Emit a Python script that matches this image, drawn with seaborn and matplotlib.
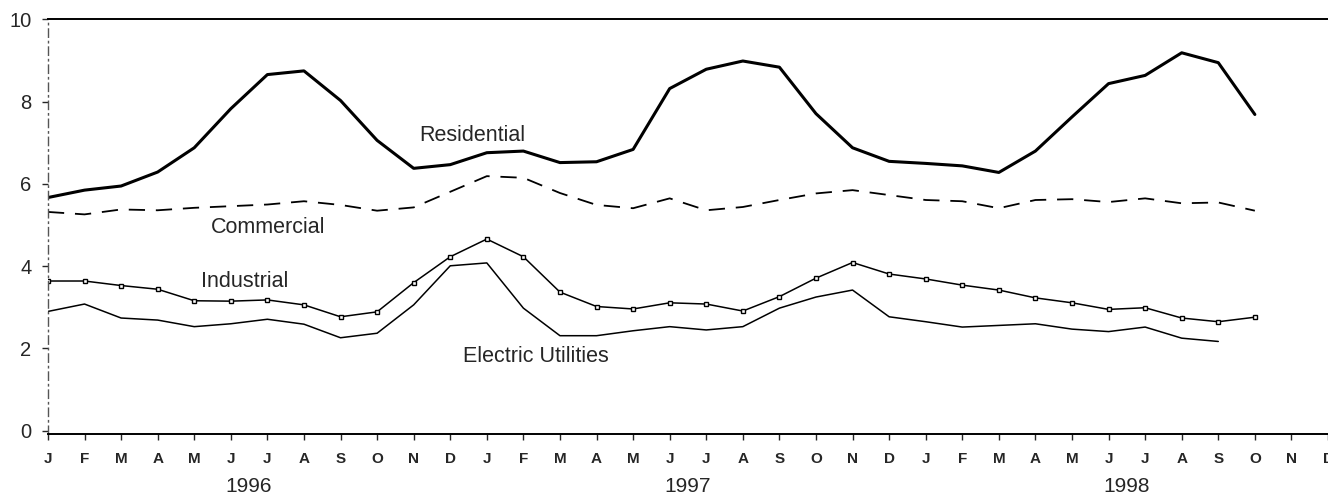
import matplotlib
matplotlib.use("Agg")
import matplotlib.pyplot as plt
import seaborn as sns
import pandas as pd

sns.set_style("white")
plt.rcParams['font.family'] = ['Liberation Sans', 'DejaVu Sans']

month_letters = ["J", "F", "M", "A", "M", "J", "J", "A", "S", "O", "N", "D"]
years = ["1996", "1997", "1998"]

residential = [5.67, 5.85, 5.95, 6.29, 6.88, 7.83, 8.66, 8.75, 8.03, 7.06, 6.38, 6.47,
               6.76, 6.80, 6.52, 6.54, 6.84, 8.32, 8.79, 8.99, 8.84, 7.71, 6.88, 6.55,
               6.50, 6.44, 6.28, 6.80, 7.63, 8.44, 8.64, 9.19, 8.95, 7.69]
commercial = [5.32, 5.26, 5.38, 5.36, 5.42, 5.46, 5.50, 5.58, 5.49, 5.35, 5.43, 5.81,
              6.19, 6.15, 5.78, 5.49, 5.41, 5.65, 5.36, 5.44, 5.61, 5.77, 5.85, 5.73,
              5.61, 5.58, 5.41, 5.61, 5.63, 5.56, 5.65, 5.53, 5.55, 5.35]
industrial = [3.64, 3.64, 3.53, 3.44, 3.16, 3.15, 3.18, 3.06, 2.77, 2.89, 3.60, 4.23,
              4.66, 4.23, 3.37, 3.02, 2.96, 3.11, 3.08, 2.91, 3.26, 3.71, 4.09, 3.81,
              3.69, 3.54, 3.42, 3.23, 3.11, 2.95, 2.99, 2.74, 2.65, 2.76]
electric = [2.90, 3.08, 2.74, 2.69, 2.53, 2.60, 2.71, 2.59, 2.26, 2.37, 3.06, 4.01,
            4.08, 2.98, 2.31, 2.31, 2.43, 2.53, 2.45, 2.53, 2.98, 3.25, 3.42, 2.77,
            2.65, 2.52, 2.56, 2.60, 2.47, 2.41, 2.52, 2.25, 2.17]

df = pd.DataFrame({'month': range(len(residential)), 'Residential': residential,
                   'Commercial': commercial, 'Industrial': industrial})
df_el = pd.DataFrame({'month': range(len(electric)), 'Electric Utilities': electric})

fig = plt.figure(figsize=(13.28, 4.97), dpi=100)
ax = fig.add_axes([0.0361, 0.1268, 0.9639, 0.834])

sns.lineplot(data=df, x='month', y='Residential', color='black', linewidth=2.2, ax=ax)
sns.lineplot(data=df, x='month', y='Commercial', color='black', linewidth=1.3,
             dashes=False, ax=ax).lines[-1].set_dashes([9, 6])
sns.lineplot(data=df, x='month', y='Industrial', color='black', linewidth=1.1,
             marker='s', markersize=3.5, markerfacecolor='white', markeredgecolor='black',
             markeredgewidth=1.0, ax=ax)
sns.lineplot(data=df_el, x='month', y='Electric Utilities', color='black', linewidth=1.1, ax=ax)

ax.text(10.14, 7.18, "Residential", fontsize=15.5, va='center', ha='left')
ax.text(4.45, 4.93, "Commercial", fontsize=15.5, va='center', ha='left')
ax.text(4.18, 3.62, "Industrial", fontsize=15.5, va='center', ha='left')
ax.text(11.34, 1.80, "Electric Utilities", fontsize=15.5, va='center', ha='left')

ax.set_xlim(0, 35)
ax.set_ylim(-0.08, 10)
ax.set_xlabel("")
ax.set_ylabel("")

ax.set_yticks([0, 2, 4, 6, 8, 10])
ax.set_yticklabels(["0", "2", "4", "6", "8", "10"])
ax.set_xticks(range(36))
ax.set_xticklabels(month_letters * 3, fontweight='bold')
ax.set_xticks([5.5, 17.5, 29.5], minor=True)
ax.set_xticklabels(years, minor=True)

ax.tick_params(axis='y', which='major', direction='out', length=4, width=1,
               left=True, labelsize=14.5, pad=8)
ax.tick_params(axis='x', which='major', direction='out', length=4, width=1,
               bottom=True, labelsize=11, pad=9)
ax.tick_params(axis='x', which='minor', length=0, labelsize=15, pad=31)

for side in ['top', 'bottom']:
    ax.spines[side].set_visible(True)
    ax.spines[side].set_color('black')
    ax.spines[side].set_linewidth(1.4)
ax.spines['right'].set_visible(False)
ax.spines['left'].set_linestyle((0, (6, 3, 1, 3)))
ax.spines['left'].set_color('#555555')
ax.spines['left'].set_linewidth(1.0)

fig.savefig("out.png", dpi=100)
